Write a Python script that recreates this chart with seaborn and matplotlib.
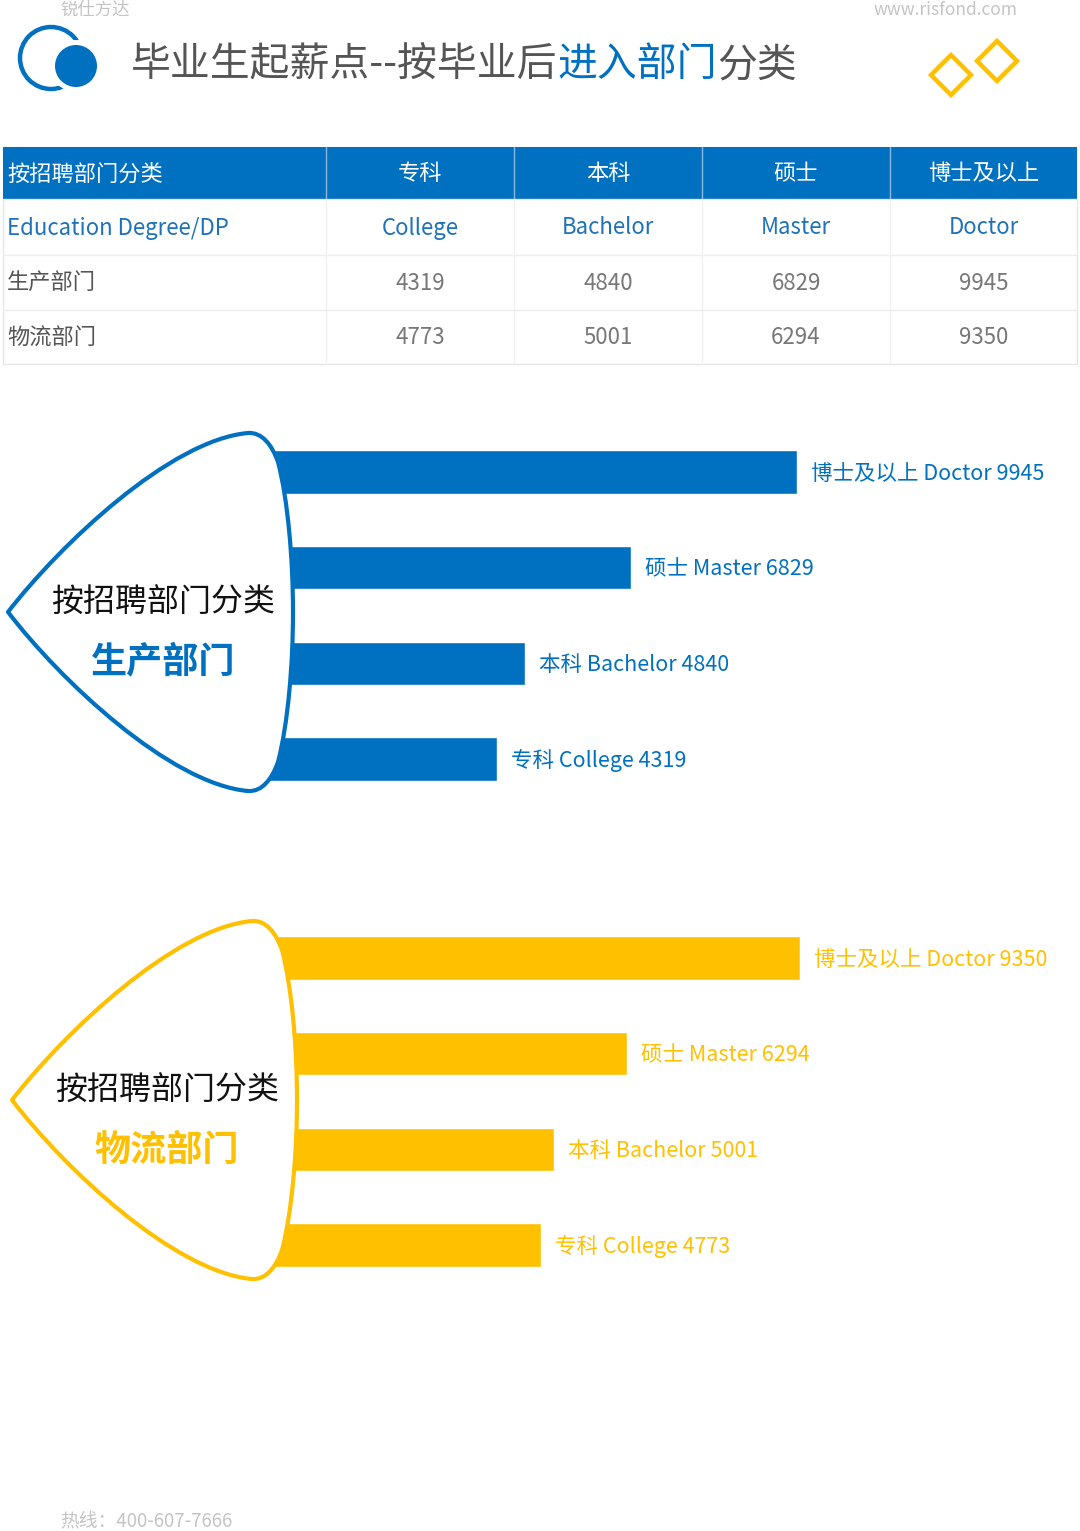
import matplotlib
matplotlib.use('Agg')
import matplotlib.pyplot as plt
from matplotlib.patches import Rectangle, Circle, Polygon, PathPatch
from matplotlib.path import Path
import pandas as pd
import seaborn as sns

# chart data
degrees_cn = ['专科', '本科', '硕士', '博士及以上']
degrees_en = ['College', 'Bachelor', 'Master', 'Doctor']
departments = ['生产部门', '物流部门']
production = [4319, 4840, 6829, 9945]
logistics = [4773, 5001, 6294, 9350]

title_parts = ['毕业生起薪点--按毕业后', '进入部门', '分类']
table_corner = '按招聘部门分类'
table_sub = 'Education Degree/DP'

BLUE = '#0070C0'
YELLOW = '#FFC000'
W, H = 1080, 1531

sns.set_theme(style='white')
plt.rcParams['font.family'] = ['Noto Sans CJK SC', 'DejaVu Sans']

fig = plt.figure(figsize=(W / 100, H / 100), dpi=100)
fig.patch.set_facecolor('white')


def px_axes(x0, y0, x1, y1, z):
    a = fig.add_axes([x0 / W, 1 - y1 / H, (x1 - x0) / W, (y1 - y0) / H])
    a.set_zorder(z)
    a.patch.set_alpha(0)
    return a


# background layer: header, table, footer
bg = px_axes(0, 0, W, H, 0)
bg.set_xlim(0, W)
bg.set_ylim(H, 0)
bg.axis('off')

bg.text(60, 10, '锐仕方达', fontsize=12.5, color='#c4c4c4', va='center')
bg.text(1018, 10, 'www.risfond.com', fontsize=12.5, color='#c4c4c4', va='center', ha='right')
bg.text(60, 1521, '热线：400-607-7666', fontsize=13.5, color='#c4c4c4', va='center')

# logo
bg.add_patch(Circle((51, 58), 31, fill=False, ec=BLUE, lw=3.2))
bg.add_patch(Circle((76, 66), 26, fc='white', ec='none'))
bg.add_patch(Circle((76, 66), 21, fc=BLUE, ec='none'))

# diamonds
for cx, cy in [(951, 75), (997, 61)]:
    d = 20
    bg.add_patch(Polygon([(cx - d, cy), (cx, cy - d), (cx + d, cy), (cx, cy + d)],
                         closed=True, fill=False, ec=YELLOW, lw=3.2, joinstyle='miter'))

# title with coloured middle part
t1 = bg.text(131, 85, title_parts[0], fontsize=28.7, color='#555555', va='bottom')
t2 = bg.annotate(title_parts[1], xy=(1, 0), xycoords=t1, fontsize=28.7, color=BLUE, va='bottom')
bg.annotate(title_parts[2], xy=(1, 0), xycoords=t2, fontsize=28.7, color='#555555', va='bottom')

# table
col_edges = [3, 326, 514, 702, 890, 1077]
row_edges = [147, 199, 255, 310, 364]
bg.add_patch(Rectangle((col_edges[0], row_edges[0]), col_edges[-1] - col_edges[0],
                       row_edges[1] - row_edges[0], fc=BLUE, ec='none'))
bg.add_patch(Rectangle((col_edges[0], row_edges[1]), col_edges[-1] - col_edges[0],
                       row_edges[-1] - row_edges[1], fc='none', ec='#e6e6e6', lw=1))
for y in row_edges[2:-1]:
    bg.plot([col_edges[0], col_edges[-1]], [y, y], color='#ececec', lw=1)
for x in col_edges[1:-1]:
    bg.plot([x, x], [row_edges[0], row_edges[1]], color='#8ab8e0', lw=1)
    bg.plot([x, x], [row_edges[1], row_edges[-1]], color='#f0f0f0', lw=1)

row_mid = [(row_edges[i] + row_edges[i + 1]) / 2 + 1 for i in range(4)]
col_mid = [(col_edges[i] + col_edges[i + 1]) / 2 for i in range(1, 5)]
fs_tab = 16
bg.text(7, row_mid[0], table_corner, fontsize=fs_tab, color='white', va='center')
bg.text(7, row_mid[1], table_sub, fontsize=fs_tab, color='#1f72b8', va='center')
bg.text(7, row_mid[2], departments[0], fontsize=fs_tab, color='#555555', va='center')
bg.text(7, row_mid[3], departments[1], fontsize=fs_tab, color='#555555', va='center')
for i in range(4):
    bg.text(col_mid[i], row_mid[0], degrees_cn[i], fontsize=fs_tab, color='white', va='center', ha='center')
    bg.text(col_mid[i], row_mid[1], degrees_en[i], fontsize=fs_tab, color='#1f72b8', va='center', ha='center')
    bg.text(col_mid[i], row_mid[2], str(production[i]), fontsize=fs_tab, color='#777777', va='center', ha='center')
    bg.text(col_mid[i], row_mid[3], str(logistics[i]), fontsize=fs_tab, color='#777777', va='center', ha='center')


# bar panels
def bar_panel(values, color, x0, y_top, y_bot, px_per_unit):
    ax = px_axes(x0, y_top, W, y_bot, 1)
    labels = [f'{c} {e}' for c, e in zip(degrees_cn, degrees_en)]
    order = labels[::-1]
    df = pd.DataFrame({'degree': labels, 'salary': values})
    sns.barplot(data=df, x='salary', y='degree', order=order, color=color,
                saturation=1, width=0.45, ax=ax)
    ax.set_xlim(0, (W - x0) / px_per_unit)
    ax.set_ylim(3.5, -0.5)
    ax.axis('off')
    for i, lab in enumerate(order):
        v = df.loc[df['degree'] == lab, 'salary'].iloc[0]
        ax.annotate(f'{lab} {v}', xy=(v, i), xytext=(14, -2), textcoords='offset pixels',
                    fontsize=15.5, color=color, va='center', ha='left')
    return ax


step = 95.67
bar_panel(production, BLUE, 267, 472 - step / 2, 759 + step / 2, 0.0533)
bar_panel(logistics, YELLOW, 271, 958 - step / 2, 1245 + step / 2, 0.0566)

# pick-shaped labels on top of the bar roots
top = px_axes(0, 0, W, H, 2)
top.set_xlim(0, W)
top.set_ylim(H, 0)
top.axis('off')

base = [
    (8, 612),
    (60, 545), (170, 440), (248, 433),
    (262, 432), (272, 445), (278, 462),
    (288, 500), (293, 560), (293, 612),
    (293, 664), (288, 724), (278, 762),
    (272, 779), (262, 792), (248, 791),
    (170, 784), (60, 680), (8, 612),
    (8, 612),
]
codes = [Path.MOVETO] + [Path.CURVE4] * 18 + [Path.CLOSEPOLY]

for (dx, dy), color, dept, cx in [((0, 0), BLUE, departments[0], 163),
                                  ((4, 488), YELLOW, departments[1], 167)]:
    verts = [(x + dx, y + dy) for x, y in base]
    top.add_patch(PathPatch(Path(verts, codes), fc='white', ec=color, lw=3,
                            joinstyle='round'))
    top.text(cx, 605 + dy - 2, table_corner, fontsize=23, color='#111111',
             ha='center', va='center')
    top.text(cx, 664 + dy - 2, dept, fontsize=26, color=color, fontweight='bold',
             ha='center', va='center')

fig.savefig('out.png', dpi=100, facecolor='white')
